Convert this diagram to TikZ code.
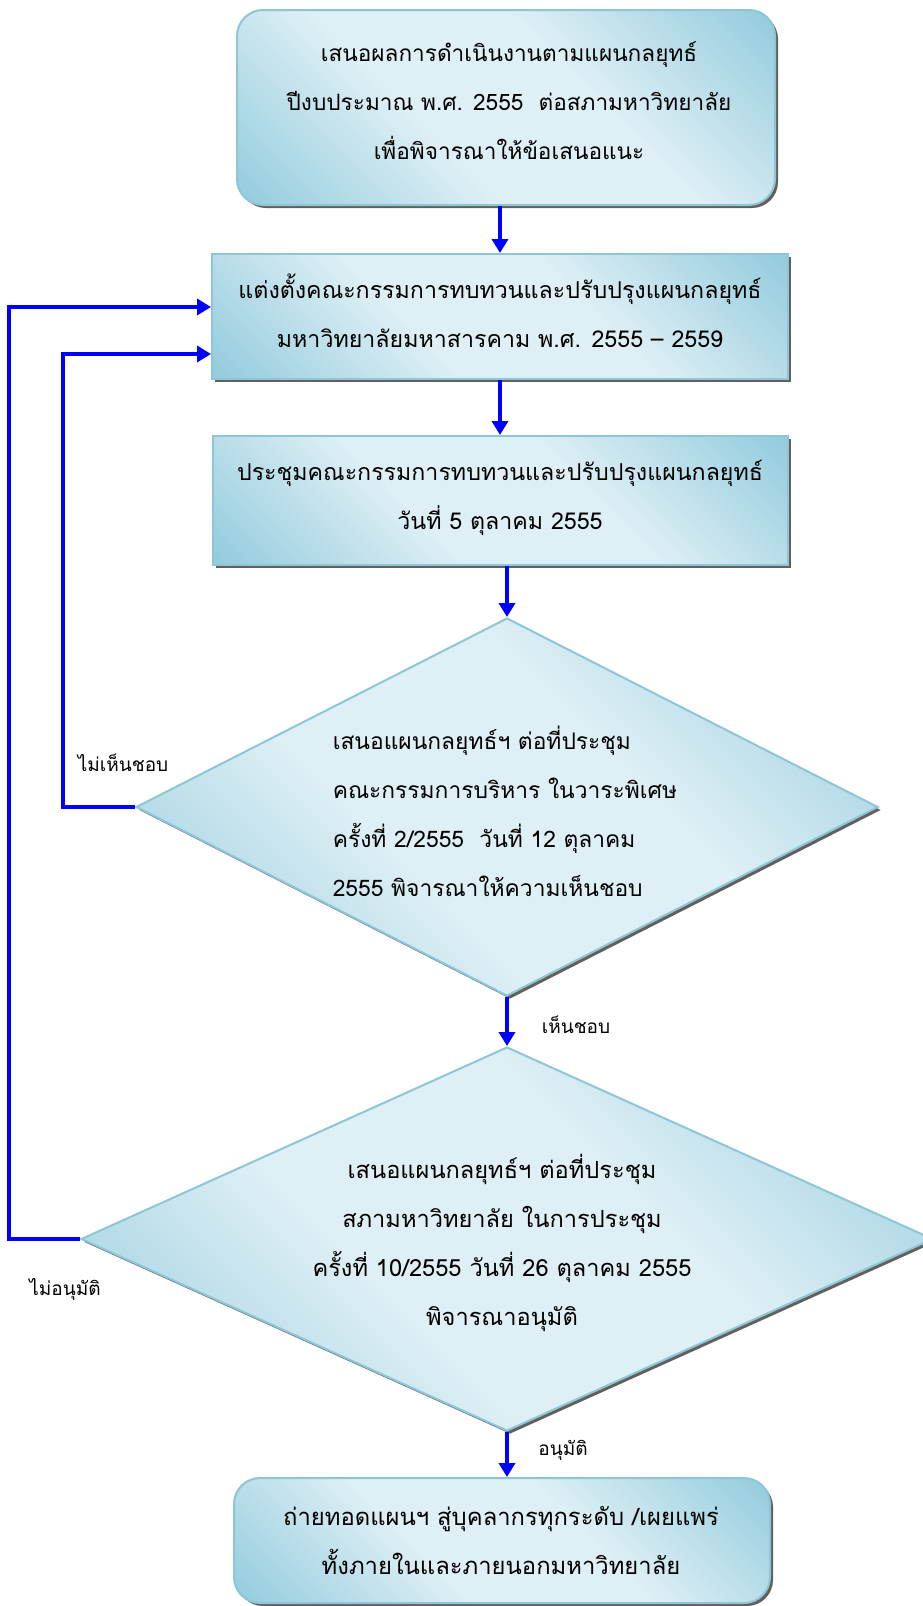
\documentclass[tikz,border=0pt]{standalone}
\usepackage{fontspec}
\newfontfamily\thaifont[Script=Thai]{Loma}
\usetikzlibrary{shapes.geometric,shadows,arrows.meta}

\definecolor{boxdark}{RGB}{150,205,222}
\definecolor{boxlight}{RGB}{222,239,245}
\definecolor{boxline}{RGB}{140,198,215}
\definecolor{shadowgray}{RGB}{100,94,92}
% light band along the diagonal, darker corners
\pgfdeclareverticalshading{boxfade}{100bp}{color(0bp)=(boxdark); color(16bp)=(boxdark);
  color(40bp)=(boxlight); color(60bp)=(boxlight); color(84bp)=(boxdark); color(100bp)=(boxdark)}

\begin{document}
\begin{tikzpicture}[x=1pt,y=-1pt,
  every node/.style={text=black},
  txt/.style={font=\thaifont\fontsize{#1}{49}\selectfont},
  stepshade/.style={draw=boxline, line width=2pt, shading=boxfade, shading angle=-45,
    drop shadow={shadow xshift=3pt, shadow yshift=-3pt, fill=shadowgray, opacity=1}},
  procbox/.style={stepshade, rectangle, inner sep=0pt},
  roundbox/.style={procbox, rounded corners=26pt},
  decision/.style={stepshade, diamond, inner sep=0pt},
  flow/.style={draw=blue, line width=4pt, -{Triangle[width=16pt,length=14pt]}},
  answer/.style={txt=19}]
\useasboundingbox (0,0) rectangle (922,1606);

% steps
\node[roundbox, minimum width=538pt, minimum height=195pt] (report) at (506,107.5) {};
\node[txt=22.6, align=center] (reporttxt) at (509,101)
  {เสนอผลการดำเนินงานตามแผนกลยุทธ์\\ปีงบประมาณ พ.ศ. 2555~ ต่อสภามหาวิทยาลัย\\เพื่อพิจารณาให้ข้อเสนอแนะ};
\node[procbox, minimum width=576pt, minimum height=125pt] (appoint) at (500,316.5) {};
\node[txt=23.2, align=center] (appointtxt) at (500,310.5)
  {แต่งตั้งคณะกรรมการทบทวนและปรับปรุงแผนกลยุทธ์\\มหาวิทยาลัยมหาสารคาม พ.ศ. 2555 – 2559};
\node[procbox, minimum width=575pt, minimum height=129pt] (meeting) at (500,500.5) {};
\node[txt=23.2, align=center] (meetingtxt) at (500,497.5)
  {ประชุมคณะกรรมการทบทวนและปรับปรุงแผนกลยุทธ์\\วันที่ 5 ตุลาคม 2555};

% decisions
\node[decision, minimum width=742pt, minimum height=378pt] (board) at (507,807) {};
\node[txt=22.8, align=left] (boardtxt) at (505,811)
  {เสนอแผนกลยุทธ์ฯ ต่อที่ประชุม\\คณะกรรมการบริหาร ในวาระพิเศษ\\ครั้งที่ 2/2555~ วันที่ 12 ตุลาคม\\2555 พิจารณาให้ความเห็นชอบ};
\node[decision, minimum width=852pt, minimum height=384pt] (council) at (507,1239) {};
\node[txt=23.6, align=center] (counciltxt) at (502,1243)
  {เสนอแผนกลยุทธ์ฯ ต่อที่ประชุม\\สภามหาวิทยาลัย ในการประชุม\\ครั้งที่ 10/2555 วันที่ 26 ตุลาคม 2555\\พิจารณาอนุมัติ};

\node[roundbox, minimum width=536pt, minimum height=125pt] (publish) at (502,1540.5) {};
\node[txt=23.8, align=center] (publishtxt) at (501,1540.5)
  {ถ่ายทอดแผนฯ สู่บุคลากรทุกระดับ /เผยแพร่\\ทั้งภายในและภายนอกมหาวิทยาลัย};

% answers
\node[answer] (notok) at (123,763) {ไม่เห็นชอบ};
\node[answer] (ok) at (576,1025) {เห็นชอบ};
\node[answer] (notappr) at (65,1289) {ไม่อนุมัติ};
\node[answer] (appr) at (563,1450) {อนุมัติ};

% connectors
\draw[flow] (appoint.north |- report.south) -- (appoint.north);
\draw[flow] (appoint.south) -- (meeting.north);
\draw[flow] (board.north |- meeting.south) -- (board.north);
\draw[flow] (board.south) -- (council.north);
\draw[flow] (council.south) -- (council.south |- publish.north);
\draw[flow] (board.west) -- ++(-72,0) |- ([yshift=-37.5pt]appoint.west); % back
\draw[flow] (council.west) -- ++(-71,0) |- ([yshift=9.5pt]appoint.west);
\end{tikzpicture}
\end{document}
